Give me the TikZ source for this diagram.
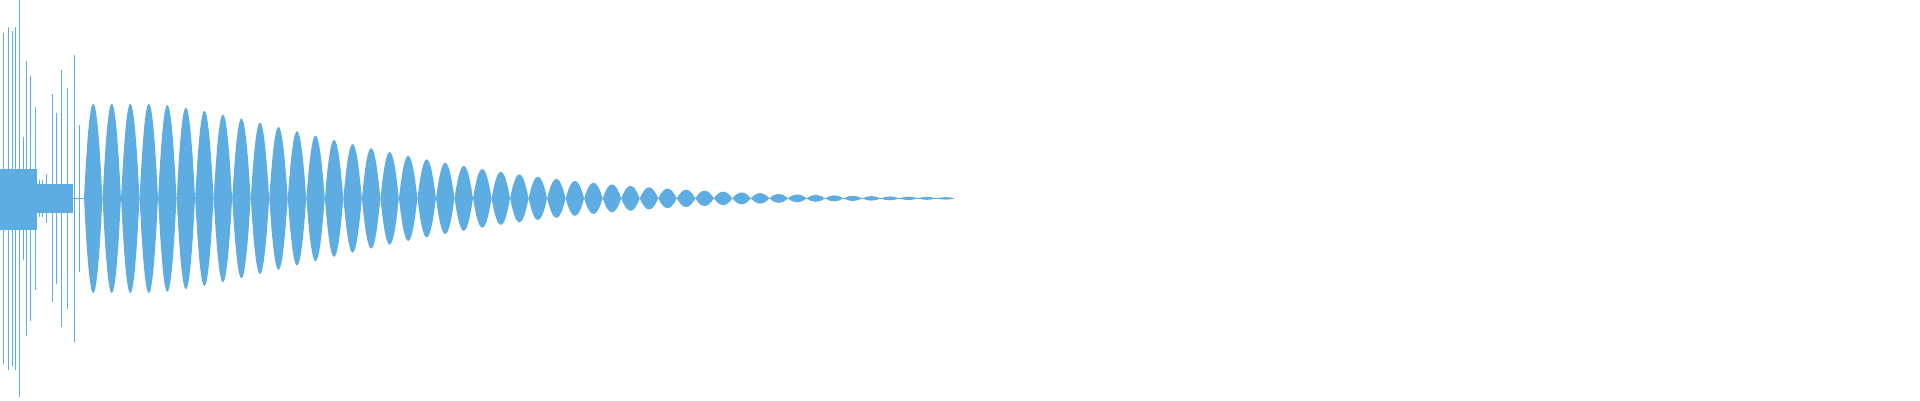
\documentclass[tikz,border=0pt]{standalone}
\begin{document}
\begin{tikzpicture}[x=1pt,y=-1pt]
\definecolor{wv}{RGB}{93,173,226}
\tikzset{wave/.style={fill=wv}, spike/.style={draw=wv,line width=0.9pt}}
\useasboundingbox (0,0) rectangle (1568,327);
\fill[wv] (0,138) rectangle (30,188);
\fill[wv] (30,150) rectangle (60,174);
\draw[wv,line width=0.6pt] (0,162) -- (775,162);
\foreach \x/\a in {3/135,7/140,10/137,13/140,16/162,19/50,22/112,25/100,29/75,32/15,35/15,38/20,43/85,46/70,50/105,55/90,61/117,65/60}{
  \draw[spike] (\x,162-\a) -- (\x,162+\a);
}
\foreach \i in {1,...,47}{
  \pgfmathsetmacro\xc{61+15.13*\i}
  \pgfmathsetmacro\a{77.6*exp(-(max(\xc-122,0.01)/245)^1.5)}
  \fill[wave] (\xc-7.5,162) .. controls (\xc-2.5,162-1.33*\a) and (\xc+2.5,162-1.33*\a) .. (\xc+7.5,162) .. controls (\xc+2.5,162+1.33*\a) and (\xc-2.5,162+1.33*\a) .. cycle;
}
\end{tikzpicture}
\end{document}
